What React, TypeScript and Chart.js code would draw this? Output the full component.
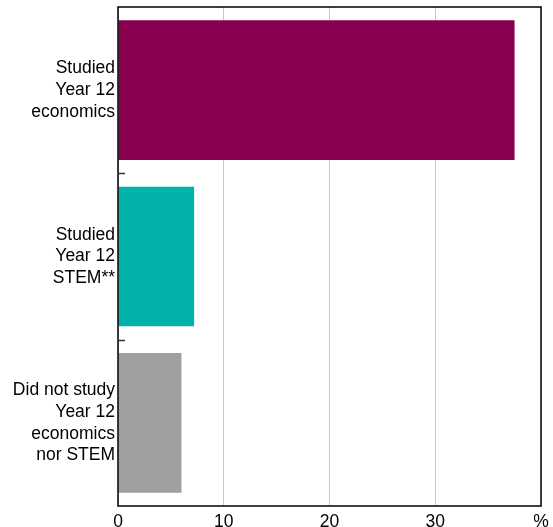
import React, { useEffect, useRef } from "react";
import { Chart, registerables } from "chart.js";

Chart.register(...registerables);

const categories: string[][] = [
  ["Studied", "Year 12", "economics"],
  ["Studied", "Year 12", "STEM**"],
  ["Did not study", "Year 12", "economics", "nor STEM"],
];
const values: number[] = [37.5, 7.2, 6.0];
const barColors: string[] = ["#880050", "#00B2A9", "#A0A0A0"];
const xTickLabels: Record<number, string> = { 0: "0", 10: "10", 20: "20", 30: "30", 40: "%" };

const FONT = "'Liberation Sans', Arial, sans-serif";

const framePlugin = {
  id: "frame",
  afterDraw(chart: any) {
    const { ctx, chartArea, scales } = chart;
    const y = scales.y;
    ctx.save();
    ctx.strokeStyle = "#000";
    ctx.lineWidth = 1.5;
    ctx.strokeRect(chartArea.left, chartArea.top, chartArea.right - chartArea.left, chartArea.bottom - chartArea.top);
    ctx.lineWidth = 1.5;
    ctx.strokeStyle = "#333";
    for (let i = 0; i < categories.length - 1; i++) {
      const p = (y.getPixelForValue(i) + y.getPixelForValue(i + 1)) / 2;
      const yy = Math.round(p) + 0.5;
      ctx.beginPath();
      ctx.moveTo(chartArea.left, yy);
      ctx.lineTo(chartArea.left + 7, yy);
      ctx.stroke();
    }
    ctx.restore();
  },
};

export default function App() {
  const ref = useRef<HTMLCanvasElement | null>(null);
  useEffect(() => {
    document.body.style.margin = "0";
    if (!ref.current) return;
    const chart = new Chart(ref.current, {
      type: "bar",
      data: {
        labels: categories,
        datasets: [
          {
            data: values,
            backgroundColor: barColors,
            borderWidth: 0,
            categoryPercentage: 1,
            barPercentage: 0.84,
          },
        ],
      },
      options: {
        indexAxis: "y",
        animation: false,
        responsive: false,
        maintainAspectRatio: false,
        layout: { padding: { top: 7, right: 12, left: 0, bottom: 0 } },
        plugins: { legend: { display: false }, tooltip: { enabled: false }, title: { display: false } },
        scales: {
          x: {
            min: 0,
            max: 40,
            ticks: {
              stepSize: 10,
              color: "#000",
              font: { family: FONT, size: 17.5 },
              padding: 6,
              maxRotation: 0,
              callback: (v: any) => xTickLabels[v as number] ?? "",
            },
            grid: { color: "#c8c8c8", lineWidth: 1, drawTicks: false },
            border: { display: false },
            afterFit: (s: any) => {
              s.height = 21;
              s.paddingLeft = 0;
              s.paddingRight = 0;
            },
          },
          y: {
            ticks: {
              color: "#000",
              font: { family: FONT, size: 17.5, lineHeight: 1.24 },
              padding: 3,
            },
            grid: { display: false, drawTicks: false },
            border: { display: false },
            afterFit: (s: any) => {
              s.width = 118;
              s.paddingTop = 0;
              s.paddingBottom = 0;
            },
          },
        },
      },
      plugins: [framePlugin],
    });
    return () => chart.destroy();
  }, []);
  return (
    <div style={{ width: 553, height: 527 }}>
      <canvas ref={ref} width={553} height={527} style={{ display: "block", width: 553, height: 527 }} />
    </div>
  );
}
